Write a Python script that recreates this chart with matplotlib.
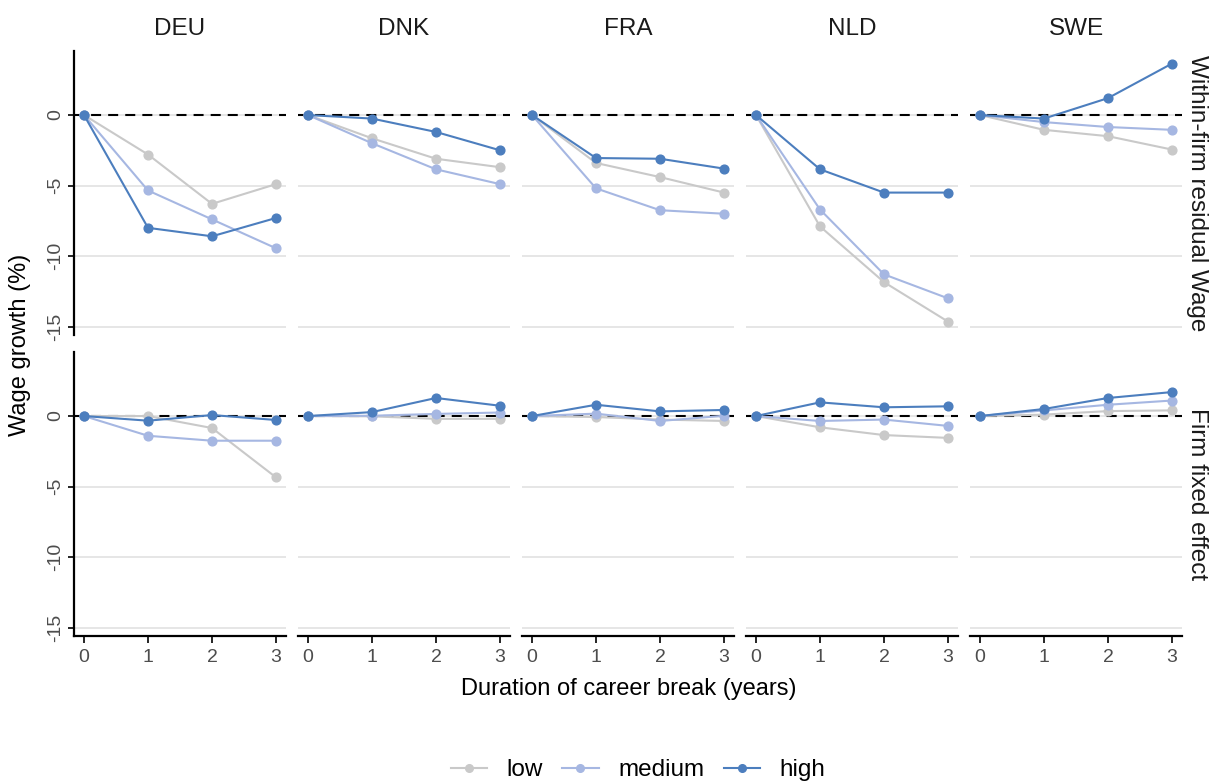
import matplotlib
matplotlib.use("Agg")
import matplotlib.pyplot as plt
from matplotlib.lines import Line2D

plt.rcParams['font.family'] = ['Liberation Sans', 'DejaVu Sans']
plt.rcParams['axes.unicode_minus'] = False

countries = ["DEU", "DNK", "FRA", "NLD", "SWE"]
rows = ["Within-firm residual Wage", "Firm fixed effect"]
groups = ["low", "medium", "high"]
colors = {"low": "#C9C9C9", "medium": "#A6B7E2", "high": "#4C7EBE"}
years = [0, 1, 2, 3]

# Within-firm residual wage growth (%)
within_low = {
    "DEU": [0, -2.8, -6.3, -4.9],
    "DNK": [0, -1.65, -3.1, -3.7],
    "FRA": [0, -3.4, -4.4, -5.5],
    "NLD": [0, -7.9, -11.85, -14.65],
    "SWE": [0, -1.05, -1.5, -2.45],
}
within_medium = {
    "DEU": [0, -5.35, -7.4, -9.45],
    "DNK": [0, -2.0, -3.85, -4.9],
    "FRA": [0, -5.2, -6.75, -7.0],
    "NLD": [0, -6.7, -11.3, -13.0],
    "SWE": [0, -0.5, -0.85, -1.05],
}
within_high = {
    "DEU": [0, -8.0, -8.6, -7.3],
    "DNK": [0, -0.25, -1.2, -2.5],
    "FRA": [0, -3.05, -3.1, -3.8],
    "NLD": [0, -3.85, -5.5, -5.5],
    "SWE": [0, -0.25, 1.2, 3.65],
}
# Firm fixed effect wage growth (%)
firm_low = {
    "DEU": [0, 0.0, -0.85, -4.35],
    "DNK": [0, -0.02, -0.2, -0.2],
    "FRA": [0, -0.07, -0.25, -0.35],
    "NLD": [0, -0.8, -1.35, -1.55],
    "SWE": [0, 0.1, 0.35, 0.4],
}
firm_medium = {
    "DEU": [0, -1.4, -1.75, -1.75],
    "DNK": [0, 0.02, 0.15, 0.25],
    "FRA": [0, 0.17, -0.35, 0.02],
    "NLD": [0, -0.35, -0.25, -0.7],
    "SWE": [0, 0.4, 0.8, 1.1],
}
firm_high = {
    "DEU": [0, -0.33, 0.07, -0.28],
    "DNK": [0, 0.28, 1.28, 0.73],
    "FRA": [0, 0.8, 0.33, 0.43],
    "NLD": [0, 0.97, 0.62, 0.69],
    "SWE": [0, 0.5, 1.28, 1.7],
}
data = [
    {"low": within_low, "medium": within_medium, "high": within_high},
    {"low": firm_low, "medium": firm_medium, "high": firm_high},
]
yticks = [0, -5, -10, -15]

W, H = 1214, 783
fig = plt.figure(figsize=(W / 100, H / 100), dpi=100)


def box(x0, y0, x1, y1):
    return [x0 / W, 1 - y1 / H, (x1 - x0) / W, (y1 - y0) / H]


col_x = [74.4, 298.4, 522.4, 746.4, 970.4]
pw = 211.2
row_y = [(50.6, 335.0), (351.6, 636.0)]

tick_col = "#4D4D4D"
strip_fs = 17.5
for r in range(2):
    for c, ctry in enumerate(countries):
        x0 = col_x[c]
        y0, y1 = row_y[r]
        ax = fig.add_axes(box(x0, y0, x0 + pw, y1))
        ax.set_xlim(-0.15, 3.15)
        ax.set_ylim(-15.6, 4.57)
        for s in ax.spines.values():
            s.set_visible(False)
        for yv in yticks:
            ax.axhline(yv, color="#E6E6E6", lw=1.4, zorder=0)
        ax.axhline(0, color="black", lw=1.5, ls=(0, (4.8, 3.4)), zorder=1)
        for g in groups:
            ax.plot(years, data[r][g][ctry], color=colors[g], lw=1.5,
                    marker="o", ms=6.3, zorder=2 + groups.index(g))
        ax.set_yticks(yticks)
        ax.set_xticks(years)
        if c == 0:
            ax.spines["left"].set_visible(True)
            ax.spines["left"].set_linewidth(1.6)
            ax.tick_params(axis="y", length=4.5, width=1.2, colors="black",
                           labelcolor=tick_col, labelsize=14, pad=3)
            for lab in ax.get_yticklabels():
                lab.set_rotation(90)
                lab.set_va("center")
        else:
            ax.tick_params(axis="y", left=False, labelleft=False)
        if r == 1:
            ax.spines["bottom"].set_visible(True)
            ax.spines["bottom"].set_linewidth(1.6)
            ax.tick_params(axis="x", length=5, width=1.2, colors="black",
                           labelcolor=tick_col, labelsize=14, pad=4.5)
        else:
            ax.tick_params(axis="x", bottom=False, labelbottom=False)
        if r == 0:
            ax.text(0.5, 1 + 22 / (y1 - y0), ctry, transform=ax.transAxes,
                    ha="center", va="center", fontsize=strip_fs, color="#1A1A1A")
        if c == 4:
            ax.text(1 + 15 / pw, 0.5, rows[r], transform=ax.transAxes,
                    ha="center", va="center", rotation=270, fontsize=strip_fs,
                    color="#1A1A1A")

fig.text(20 / W, 1 - 345 / H, "Wage growth (%)", rotation=90, ha="center",
         va="center", fontsize=17, color="black")
fig.text(629 / W, 1 - 689 / H, "Duration of career break (years)",
         ha="center", va="center", fontsize=17, color="black")

handles = [Line2D([0], [0], color=colors[g], lw=1.5, marker="o", ms=5.5)
           for g in groups]
fig.legend(handles, groups, loc="center", bbox_to_anchor=(638 / W, 1 - 770 / H),
           ncol=3, frameon=False, fontsize=17.5, handlelength=1.5,
           columnspacing=0.8, handletextpad=0.8)

fig.savefig("out.png", dpi=100)
